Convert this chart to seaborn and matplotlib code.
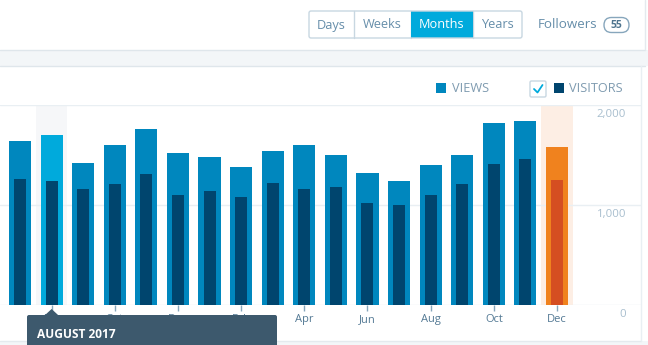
import numpy as np
import pandas as pd
import matplotlib
matplotlib.use("Agg")
import matplotlib.pyplot as plt
import matplotlib.transforms as mtransforms
from matplotlib.patches import FancyBboxPatch, Rectangle, Polygon
import seaborn as sns

# ---------------- data ----------------
months = ["2017-07", "2017-08", "2017-09", "2017-10", "2017-11", "2017-12",
          "2018-01", "2018-02", "2018-03", "2018-04", "2018-05", "2018-06",
          "2018-07", "2018-08", "2018-09", "2018-10", "2018-11", "2018-12"]
views = [1640, 1700, 1420, 1600, 1760, 1520, 1480, 1380, 1540,
         1600, 1500, 1320, 1240, 1400, 1500, 1820, 1840, 1580]
visitors = [1260, 1240, 1160, 1210, 1310, 1100, 1140, 1080, 1220,
            1160, 1180, 1020, 1000, 1100, 1210, 1410, 1460, 1250]
tick_months = ["2017-08", "2017-10", "2017-12", "2018-02", "2018-04",
               "2018-06", "2018-08", "2018-10", "2018-12"]
tick_labels = ["Aug", "Oct", "Dec", "Feb", "Apr", "Jun", "Aug", "Oct", "Dec"]
y_ticks = [0, 1000, 2000]
y_tick_labels = ["0", "1,000", "2,000"]
selected_month = "2017-08"
current_month = "2018-12"
periods = ["Days", "Weeks", "Months", "Years"]
active_period = "Months"
followers = "55"
tooltip_title = "AUGUST 2017"
legend_labels = ["VIEWS", "VISITORS"]

# ---------------- style ----------------
sns.set_theme(style="white")
plt.rcParams["font.family"] = ["Open Sans", "DejaVu Sans"]

W, H = 648, 345
fig = plt.figure(figsize=(W / 100, H / 100), dpi=100)
fig.patch.set_facecolor("white")

TEXT = "#537994"
LIGHT = "#a8bece"
BORDER = "#c8d7e1"

# background / chrome layer (pixel coordinates)
bg = fig.add_axes([0, 0, 1, 1])
bg.set_xlim(0, W)
bg.set_ylim(H, 0)
bg.axis("off")
bg.set_zorder(0)

# grey separator band between cards
bg.add_patch(Rectangle((0, 50), W, 16, facecolor="#f3f6f8", edgecolor="none"))
bg.plot([0, 645], [50, 50], color="#dfe6eb", lw=1)
bg.plot([0, 645], [66, 66], color="#dfe6eb", lw=1)
bg.plot([645, 645], [0, 50], color="#e4eaee", lw=1)
# bottom band
bg.add_patch(Rectangle((0, 341), W, 10, facecolor="#f3f6f8", edgecolor="none"))
bg.plot([0, 641], [341, 341], color="#e4eaee", lw=1)
bg.plot([641, 641], [66, 341], color="#e9eff3", lw=1)

# segmented period control
seg_edges = [309, 354, 411, 473, 522]
for i, p in enumerate(periods):
    x0, x1 = seg_edges[i], seg_edges[i + 1]
    if p == active_period:
        bg.add_patch(Rectangle((x0, 11), x1 - x0, 27, facecolor="#00aadc",
                               edgecolor="none", zorder=2))
    bg.text((x0 + x1) / 2, 25, p, ha="center", va="center", fontsize=9.2,
            color="white" if p == active_period else "#668eaa", zorder=3)
bg.add_patch(FancyBboxPatch((309, 11), 213, 27, boxstyle="round,pad=0,rounding_size=2",
                            facecolor="none", edgecolor=BORDER, lw=1, zorder=4))
for x in seg_edges[1:-1]:
    bg.plot([x, x], [11, 38], color=BORDER, lw=1, zorder=1)

bg.text(538, 25, "Followers", ha="left", va="center", fontsize=9.6, color="#668eaa")
bg.add_patch(FancyBboxPatch((604, 17.5), 25, 15, boxstyle="round,pad=0,rounding_size=7.5",
                            facecolor="white", edgecolor="#87a6bc", lw=1))
bg.text(616.5, 25.5, followers, ha="center", va="center", fontsize=7.5,
        fontweight="bold", color="#4f748e")

# legend
bg.add_patch(Rectangle((436, 83), 10, 10, facecolor="#0087be", edgecolor="none"))
bg.text(452, 88.5, legend_labels[0], ha="left", va="center", fontsize=9.2, color="#7f9bb0")
bg.add_patch(FancyBboxPatch((530, 81), 16, 16, boxstyle="round,pad=0,rounding_size=1.5",
                            facecolor="white", edgecolor=BORDER, lw=1))
bg.plot([534, 537.5, 542.5], [89, 92.5, 85], color="#00aadc", lw=1.3,
        solid_capstyle="round")
bg.add_patch(Rectangle((554, 83), 10, 10, facecolor="#00456e", edgecolor="none"))
bg.text(569, 88.5, legend_labels[1], ha="left", va="center", fontsize=9.2, color="#7f9bb0")

# ---------------- chart ----------------
step = 31.59
first_px = 20
right_px = 641
ax = fig.add_axes([0, (H - 305) / H, right_px / W, 200 / H])
ax.set_zorder(1)
ax.patch.set_alpha(0)

df = pd.DataFrame({"month": months, "views": views, "visitors": visitors})
sel_i = months.index(selected_month)
cur_i = months.index(current_month)

view_pal = {m: "#0087be" for m in months}
view_pal[selected_month] = "#00aadc"
view_pal[current_month] = "#f0821e"
vis_pal = {m: "#00456e" for m in months}
vis_pal[current_month] = "#d54e21"

ax.axvspan(sel_i - 0.5, sel_i + 0.5, color="#f6f7f9", zorder=0, lw=0)
ax.axvspan(cur_i - 0.5, cur_i + 0.5, color="#fdeee4", zorder=0, lw=0)
for y in y_ticks:
    ax.axhline(y, color="#e9eff3", lw=1, zorder=0.5)

sns.barplot(data=df, x="month", y="views", hue="month", palette=view_pal,
            width=0.70, saturation=1, legend=False, errorbar=None, ax=ax,
            zorder=2, linewidth=0, edgecolor="none")
sns.barplot(data=df, x="month", y="visitors", hue="month", palette=vis_pal,
            width=0.38, saturation=1, legend=False, errorbar=None, ax=ax,
            zorder=3, linewidth=0, edgecolor="none")

ax.set_xlim(-first_px / step, (right_px - first_px) / step)
ax.set_ylim(0, 2000)
for s in ax.spines.values():
    s.set_visible(False)
ax.set_xlabel("")
ax.set_ylabel("")
ax.set_yticks([])
ax.set_xticks([months.index(m) for m in tick_months])
ax.set_xticklabels(tick_labels, fontsize=8, color=TEXT)
ax.tick_params(axis="x", length=4, width=1, color="#87a6bc", pad=2.5, direction="out",
               bottom=True)

ytrans = mtransforms.offset_copy(
    mtransforms.blended_transform_factory(ax.transAxes, ax.transData),
    fig=fig, y=-12, units="dots")
for y, lab in zip(y_ticks, y_tick_labels):
    ax.text(626 / right_px, y, lab, transform=ytrans, ha="right", va="baseline",
            fontsize=8.2, color=LIGHT)

# ---------------- tooltip (foreground) ----------------
fg = fig.add_axes([0, 0, 1, 1])
fg.set_xlim(0, W)
fg.set_ylim(H, 0)
fg.axis("off")
fg.set_zorder(3)
tip_x = first_px + sel_i * step
fg.add_patch(FancyBboxPatch((27, 315), 250, 40, boxstyle="round,pad=0,rounding_size=2",
                            facecolor="#3d596d", edgecolor="none"))
fg.add_patch(Polygon([[tip_x - 7, 315.5], [tip_x, 309], [tip_x + 7, 315.5]],
                     closed=True, facecolor="#3d596d", edgecolor="none"))
fg.text(37, 334.5, tooltip_title, ha="left", va="center", fontsize=8.6,
        fontweight="bold", color="white")

fig.savefig("out.png", dpi=100)
